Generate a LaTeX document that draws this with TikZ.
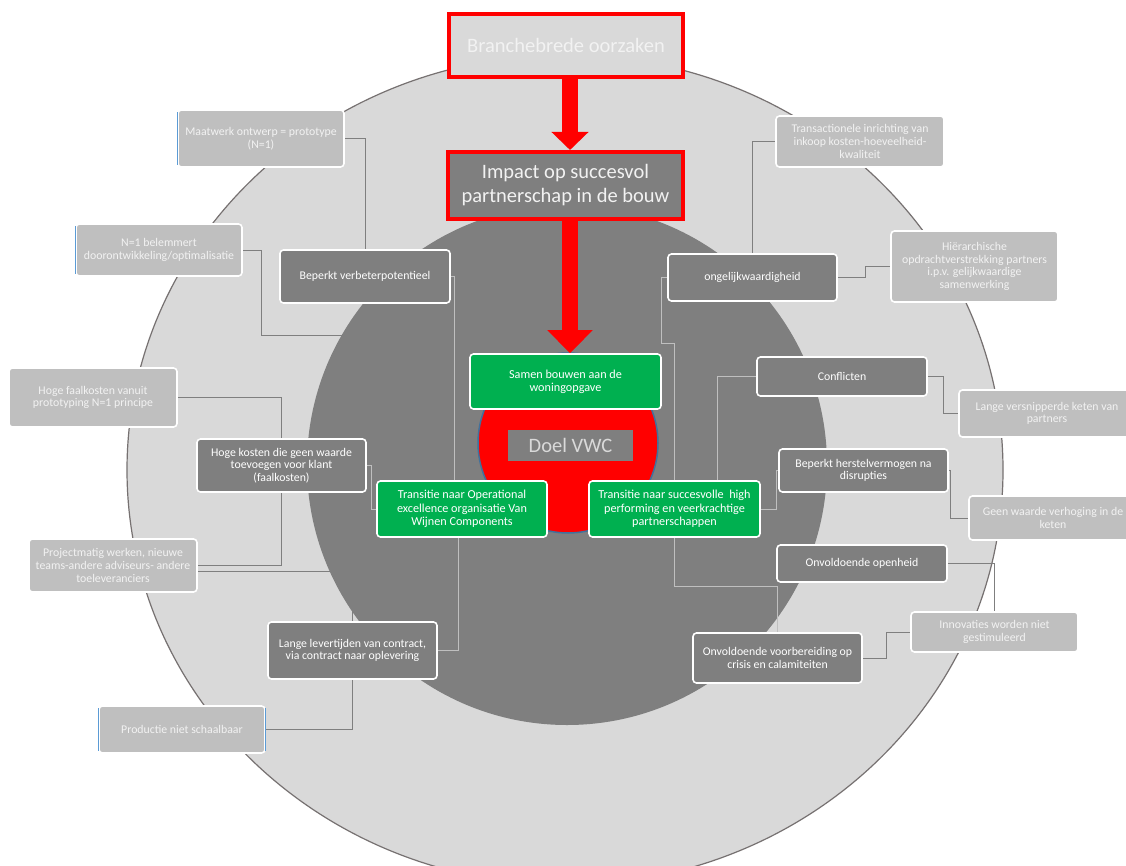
\documentclass[tikz,border=0pt]{standalone}
\usepackage{fontspec}
\setmainfont{Carlito}
\usetikzlibrary{arrows.meta}
\pgfdeclarelayer{back}
\pgfdeclarelayer{mid}
\pgfsetlayers{back,mid,main}

\definecolor{ringlight}{HTML}{D9D9D9}
\definecolor{ringdark}{HTML}{7F7F7F}
\definecolor{boxlight}{HTML}{BFBFBF}
\definecolor{goalgreen}{HTML}{00B050}
\definecolor{edgeblue}{HTML}{41719C}
\definecolor{accentblue}{HTML}{5B9BD5}
\definecolor{rimgrey}{HTML}{767171}
\definecolor{paletext}{HTML}{F2F2F2}

\begin{document}
\begin{tikzpicture}[x=1pt,y=-1pt,
  base/.style={rectangle, rounded corners=3.5pt, draw=white, line width=1.6pt,
    align=center, inner sep=2pt, font=\fontsize{11.8}{12.7}\selectfont},
  causebox/.style={base, fill=ringdark, text=white},
  rootbox/.style={base, fill=boxlight, text=paletext},
  goalbox/.style={base, fill=goalgreen, text=white, font=\fontsize{12.2}{13.3}\selectfont},
  headbox/.style={rectangle, draw=red, line width=4pt, align=center,
    text=paletext, font=\fontsize{20.5}{24}\selectfont},
  darkwire/.style={draw=ringdark, line width=0.9pt},
  lightwire/.style={draw=boxlight, line width=0.9pt},
  bigarrow/.style={draw=red, line width=16.6pt},
]
\useasboundingbox (0,0) rectangle (1126,866);

% page, rings and centre goal
\begin{pgfonlayer}{back}
  \fill[white] (0,0) rectangle (1126,866);
  \draw[fill=ringlight, draw=rimgrey, line width=1.2pt] (565,470) ellipse [x radius=438pt, y radius=415pt];
  \fill[ringdark] (567,465) circle [radius=260pt];
  \draw[fill=red, draw=edgeblue, line width=1.5pt] (568,443) circle [radius=90pt];
\end{pgfonlayer}
\node[fill=ringdark, minimum width=125pt, minimum height=31pt, inner sep=0pt,
  text=ringlight, font=\fontsize{20.5}{24}\selectfont] (doel) at (570.5,445.5) {Doel VWC};

% header boxes
\node[headbox, fill=ringlight, minimum width=234pt, minimum height=63pt] (cause) at (566,45.5) {Branchebrede oorzaken};
\node[headbox, fill=ringdark, minimum width=235pt, minimum height=67pt] (impact) at (565.5,185.5) {Impact op succesvol\\partnerschap in de bouw};

% goals
\node[goalbox, minimum width=191pt, minimum height=55pt] (sb) at (565.5,381.5) {Samen bouwen aan de\\woningopgave};
\node[goalbox, minimum width=170pt, minimum height=56pt] (oe) at (462,509) {Transitie naar Operational\\excellence organisatie Van\\Wijnen Components};
\node[goalbox, minimum width=171pt, minimum height=56pt] (ts) at (674.5,509) {Transitie naar succesvolle\ \ high\\performing en veerkrachtige\\partnerschappen};

% effects
\node[causebox, minimum width=170pt, minimum height=53pt] (bv) at (365,276.5) {Beperkt verbeterpotentieel};
\node[causebox, minimum width=169pt, minimum height=53pt] (hk) at (281.5,465.5) {Hoge kosten die geen waarde\\toevoegen voor klant\\(faalkosten)};
\node[causebox, minimum width=169pt, minimum height=57pt] (ll) at (352.5,650.5) {Lange levertijden van contract,\\via contract naar oplevering};
\node[causebox, minimum width=169pt, minimum height=47pt] (ong) at (752.5,277.5) {ongelijkwaardigheid};
\node[causebox, minimum width=170pt, minimum height=39pt] (conf) at (842,376.5) {Conflicten};
\node[causebox, minimum width=169pt, minimum height=43pt] (bh) at (863.5,470.5) {Beperkt herstelvermogen na\\disrupties};
\node[causebox, minimum width=170pt, minimum height=37pt] (oo) at (862,563.5) {Onvoldoende openheid};
\node[causebox, minimum width=169pt, minimum height=50pt] (ovb) at (777.5,658) {Onvoldoende voorbereiding op\\crisis en calamiteiten};

% root causes
\node[rootbox, minimum width=166pt, minimum height=57pt] (maat) at (261,138.5) {Maatwerk ontwerp = prototype\\(N=1)};
\node[rootbox, minimum width=166pt, minimum height=52pt] (n1b) at (159,250) {N=1 belemmert\\doorontwikkeling/optimalisatie};
\node[rootbox, minimum width=168pt, minimum height=59pt] (hfk) at (93,397.5) {Hoge faalkosten vanuit\\prototyping N=1 principe};
\node[rootbox, minimum width=168pt, minimum height=53pt] (proj) at (113,565.5) {Projectmatig werken, nieuwe\\teams-andere adviseurs- andere\\toeleveranciers};
\node[rootbox, minimum width=166pt, minimum height=47pt] (prod) at (182,729.5) {Productie niet schaalbaar};
\node[rootbox, minimum width=168pt, minimum height=51pt] (trans) at (860,141.5) {Transactionele inrichting van\\inkoop kosten-hoeveelheid-\\kwaliteit};
\node[rootbox, minimum width=167pt, minimum height=71pt] (hier) at (974.5,266.5) {Hiërarchische\\opdrachtverstrekking partners\\i.p.v. gelijkwaardige\\samenwerking};
\node[rootbox, minimum width=176pt, minimum height=47pt] (lvk) at (1047,413.5) {Lange versnipperde keten van\\partners};
\node[rootbox, minimum width=168pt, minimum height=44pt] (gw) at (1053,518) {Geen waarde verhoging in de\\keten};
\node[rootbox, minimum width=167pt, minimum height=40pt] (inn) at (994.5,632) {Innovaties worden niet\\gestimuleerd};

% blue edge accents
\draw[accentblue, line width=1.2pt] ([yshift=-3pt]maat.north west) -- ([yshift=3pt]maat.south west);
\draw[accentblue, line width=1.2pt] ([yshift=-3pt]n1b.north west) -- ([yshift=3pt]n1b.south west);
\draw[accentblue, line width=1.2pt] ([yshift=-3pt]prod.north west) -- ([yshift=3pt]prod.south west);
\draw[accentblue, line width=1.2pt] ([yshift=-3pt]prod.north east) -- ([yshift=3pt]prod.south east);

% connectors and arrows
\begin{pgfonlayer}{mid}
  \draw[darkwire] (maat.east) -| (bv.north);
  \draw[darkwire] (n1b.east) -- ++(19,0) -- ++(0,85) -| (bv.south);
  \draw[darkwire] (hfk.east) -| (hk.north);
  \draw[lightwire] (hk.east) -- ++(5,0) |- (oe.west);
  \draw[darkwire] (proj.east) -| (hk.south);
  \draw[darkwire] ([yshift=-6pt]proj.east) -| (ll.north);
  \draw[lightwire] ([xshift=-4pt]oe.south) |- (ll.east);
  \draw[darkwire] (ll.south) |- (prod.east);
  \draw[lightwire] (bv.east) -| ([xshift=-8pt]oe.north);
  \draw[darkwire] (trans.west) -| (ong.north);
  \draw[darkwire] (ong.east) -- ++(28,0) |- (hier.west);
  \draw[lightwire] (ong.west) -- ++(-6,0) -- ++(0,65.5) -| (ts.north);
  \draw[lightwire] (conf.west) -| ([xshift=42.5pt]ts.north);
  \draw[darkwire] (conf.east) -- ++(16,0) |- (lvk.west);
  \draw[lightwire] (ts.east) -- ++(16,0) |- (bh.west);
  \draw[darkwire] (bh.east) -- ++(2,0) |- (gw.west);
  \draw[lightwire] (ts.south) -- ++(0,49) -| (ovb.north);
  \draw[darkwire] (oo.east) -| (inn.north);
  \draw[darkwire] (ovb.east) -- ++(24,0) |- (inn.west);

  \draw[bigarrow, -{Triangle[length=18pt, width=36pt]}] ([xshift=4pt]cause.south) -- ([xshift=4pt]cause.south |- impact.north);
  \draw[bigarrow, -{Triangle[length=23pt, width=44pt]}] ([xshift=4.5pt]impact.south) -- ([xshift=4.5pt]impact.south |- sb.north);
\end{pgfonlayer}
\end{tikzpicture}
\end{document}
